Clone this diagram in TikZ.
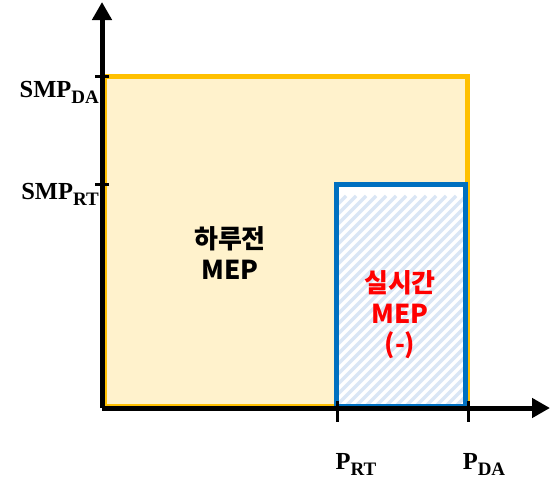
\documentclass[tikz,border=0pt]{standalone}
\usepackage{fontspec}
\setmainfont{Liberation Serif}
\newfontfamily\kr{Noto Sans CJK KR}
\usetikzlibrary{arrows.meta}
\definecolor{ayellow}{HTML}{FFC000}
\definecolor{ayfill}{HTML}{FFF2CC}
\definecolor{ablue}{HTML}{0070C0}
\definecolor{ahatch}{HTML}{DAE6F5}
\definecolor{ared}{HTML}{FF0000}
\newcommand{\mysub}[1]{\raisebox{-6pt}{\fontsize{19}{20}\selectfont #1}}
\tikzset{
  axis/.style={line width=5pt,-{Triangle[width=19pt,length=18pt]}},
  tick/.style={line width=3pt},
  axlabel/.style={font=\fontsize{24.5}{28}\selectfont\bfseries,inner sep=0pt},
  kbox/.style={font=\kr\bfseries\fontsize{26}{30.5}\selectfont,align=center,inner sep=0pt}
}
\begin{document}
\begin{tikzpicture}[x=1pt,y=-1pt]
\useasboundingbox (0,0) rectangle (550,479);
% day-ahead area
\draw[ayellow,fill=ayfill,line width=5pt] (104.5,76) rectangle (467,406);
% real-time area
\fill[white] (336,184) rectangle (465,406);
\begin{scope}
\clip (336,184) rectangle (465,406);
\foreach \i in {0,10,...,400}{
  \draw[ahatch,line width=3.5pt] (336-20+\i-230,406+20) -- (336-20+\i,406+20-230);
}
\end{scope}
\draw[ablue,line width=5pt] (336,184) rectangle (465,406);
% axes
\coordinate (O) at (102,408);
\coordinate (ytop) at (102,2);
\coordinate (xend) at (550,408);
\draw[axis] (O) -- (ytop);
\draw[axis] (O) -- (xend);
% ticks
\coordinate (tda1) at (95,76); \coordinate (tda2) at (109,76);
\coordinate (trt1) at (95,184); \coordinate (trt2) at (109,184);
\coordinate (prt1) at (337,401); \coordinate (prt2) at (337,422);
\coordinate (pda1) at (468,401); \coordinate (pda2) at (468,422);
\draw[tick] (tda1) -- (tda2);
\draw[tick] (trt1) -- (trt2);
\draw[tick] (prt1) -- (prt2);
\draw[tick] (pda1) -- (pda2);
% labels
\node[axlabel,anchor=base east] (smpda) at (99,97) {SMP\mysub{DA}};
\node[axlabel,anchor=base east] (smprt) at (99,199) {SMP\mysub{RT}};
\node[axlabel,anchor=base] (prt) at (356,469) {P\mysub{RT}};
\node[axlabel,anchor=base] (pda) at (484,469) {P\mysub{DA}};
\node[kbox] (dam) at (230,253) {하루전\\MEP};
\node[kbox,text=ared] (rtm) at (400,315) {실시간\\MEP\\(-)};
\end{tikzpicture}
\end{document}
